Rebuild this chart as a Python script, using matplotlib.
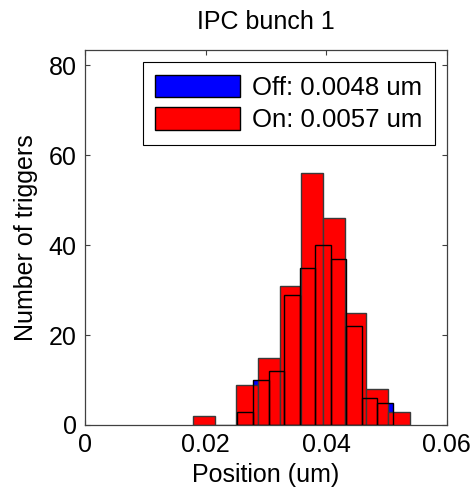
#!/usr/bin/env python3
"""IPC bunch 1 position histograms, feedback off vs on."""

import matplotlib

matplotlib.use("Agg")
import matplotlib.pyplot as plt
import numpy as np
from matplotlib.patches import Patch

# bin centres (um) and counts
off_centers = [0.02660, 0.02918, 0.03176, 0.03434, 0.03692,
               0.03950, 0.04208, 0.04466, 0.04724, 0.04982]
off_counts = [3, 10, 12, 29, 35, 40, 37, 22, 6, 5]

on_centers = [0.01970, 0.02330, 0.02690, 0.03050, 0.03411,
              0.03771, 0.04131, 0.04491, 0.04852, 0.05212]
on_counts = [2, 0, 9, 15, 31, 56, 46, 25, 8, 3]

off_label = "Off: 0.0048 um"
on_label = "On: 0.0057 um"
x_ticks = [0, 0.02, 0.04, 0.06]
x_tick_labels = ["0", "0.02", "0.04", "0.06"]
y_ticks = [0, 20, 40, 60, 80]

plt.rcParams["font.family"] = ["Liberation Sans", "DejaVu Sans"]
FS = 18

fig = plt.figure(figsize=(4.73, 4.97), dpi=100)
W, H = 473, 497
ax = fig.add_axes([85 / W, 1 - 425 / H, 361.5 / W, 375 / H])

off_w = np.diff(off_centers).mean()
on_w = np.diff(on_centers).mean()

# Off faces underneath, On drawn over, Off outlines end up on top
ax.bar(off_centers, off_counts, width=off_w, color="#0000ff",
       edgecolor="none", zorder=1)
ax.bar(on_centers, on_counts, width=on_w, color="#ff0000",
       edgecolor="#3a3a3a", linewidth=1.0, zorder=2)
ax.bar(off_centers, off_counts, width=off_w, facecolor="none",
       edgecolor="black", linewidth=1.0, zorder=3)

ax.set_xlim(0, 0.06)
ax.set_ylim(0, 83.4)
ax.set_xticks(x_ticks)
ax.set_xticklabels(x_tick_labels)
ax.set_yticks(y_ticks)
ax.tick_params(direction="in", length=3.6, width=0.8, top=True, right=True,
               labelsize=FS, color="#404040", pad=6)
for s in ax.spines.values():
    s.set_color("#404040")
    s.set_linewidth(0.9)

ax.set_title("IPC bunch 1", fontsize=FS, pad=15)
ax.set_xlabel("Position (um)", fontsize=FS, labelpad=4)
ax.set_ylabel("Number of triggers", fontsize=FS, labelpad=8)

handles = [Patch(facecolor="#0000ff", edgecolor="black", label=off_label),
           Patch(facecolor="#ff0000", edgecolor="black", label=on_label)]
leg = ax.legend(handles=handles, loc="upper right",
                bbox_to_anchor=(0.968, 0.968), borderaxespad=0,
                prop={"size": 18.5}, fancybox=False, framealpha=1,
                edgecolor="black", handlelength=3.3, handleheight=0.95,
                handletextpad=0.45, borderpad=0.5, labelspacing=0.3)
leg.get_frame().set_linewidth(0.8)

fig.savefig("out.png", dpi=100)
